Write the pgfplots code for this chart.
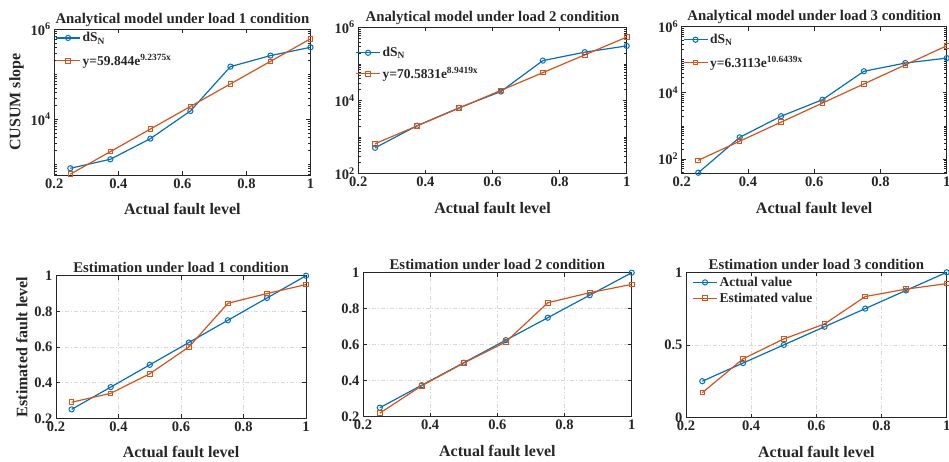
\documentclass[border=0pt]{standalone}
\usepackage{fontspec}
\setmainfont{Liberation Serif}
\usepackage{pgfplots}
\pgfplotsset{compat=1.18}

\definecolor{mblue}{rgb}{0,0.447,0.741}
\definecolor{morange}{rgb}{0.85,0.325,0.098}
\definecolor{axgray}{rgb}{0.15,0.15,0.15}

\pgfplotsset{
  panel/.style={
    scale only axis, anchor=south west,
    xmin=0.2, xmax=1, xtick={0.2,0.4,0.6,0.8,1},
    axis line style={axgray, line width=0.8pt},
    tick style={axgray, line width=0.6pt},
    major tick length=4pt, minor tick length=2.5pt,
    tick label style={font=\fontsize{14.5}{16}\selectfont\bfseries, text=axgray},
    /pgf/number format/assume math mode=true,
    label style={font=\fontsize{16}{18}\selectfont\bfseries, text=axgray},
    title style={font=\fontsize{14.8}{17}\selectfont\bfseries, text=axgray, at={(0.5,1)}, anchor=base},
    xlabel={Actual fault level},
    xlabel style={yshift=-8pt},
    legend style={draw=none, fill=none, at={(0.0,1.0)}, anchor=north west,
      font=\fontsize{13.5}{15}\selectfont\bfseries, text=axgray, row sep=1pt, inner sep=1pt},
    legend cell align=left,
    legend image code/.code={\draw[mark repeat=2,mark phase=2] plot coordinates {(0pt,0pt)(12pt,0pt)(24pt,0pt)};},
  },
  sblue/.style={color=mblue, line width=1.2pt, mark=o, mark size=2.6pt, mark options={line width=1pt}},
  sred/.style={color=morange, line width=1.2pt, mark=square, mark size=2.3pt, mark options={line width=1pt}},
  logp/.style={ymax=1e6, legend style={row sep=7pt}, title style={yshift=0pt}, minor ytick={20,30,40,50,60,70,80,90,100,200,300,400,500,600,700,800,900,1000,2000,3000,4000,5000,6000,7000,8000,9000,10000,20000,30000,40000,50000,60000,70000,80000,90000,100000,200000,300000,400000,500000,600000,700000,800000,900000}},
  linp/.style={grid=major, title style={yshift=-3pt}, major grid style={color=black!15, dash pattern=on 4pt off 2pt on 1pt off 2pt, line width=0.5pt}},
}

\begin{document}
\begin{tikzpicture}
\useasboundingbox (0,0) rectangle (949pt,461pt);

% top row: analytical model (log scale)
\begin{semilogyaxis}[panel, logp, at={(54.3pt,286pt)}, width=256.2pt, height=145.7pt,
  ymin=578, ytick={10000,1000000}, yticklabels={10\textsuperscript{4},10\textsuperscript{6}},
  title={Analytical model under load 1 condition}, ylabel={CUSUM slope}]
\addplot[sblue] coordinates {(0.25,815) (0.375,1291) (0.5,3715) (0.625,15300) (0.75,148000) (0.875,260000) (1,398000)};
\addlegendentry{dS\textsubscript{N}}
\addplot[sred] coordinates {(0.25,602.5) (0.375,1912) (0.5,6066) (0.625,19247) (0.75,61065) (0.875,193780) (1,614940)};
\addlegendentry{y=59.844e\textsuperscript{9.2375x}}
\end{semilogyaxis}

\begin{semilogyaxis}[panel, logp, at={(358.3pt,287.3pt)}, width=268.4pt, height=146.4pt,
  ymin=100, ytick={100,10000,1000000}, yticklabels={10\textsuperscript{2},10\textsuperscript{4},10\textsuperscript{6}},
  title={Analytical model under load 2 condition},
  legend style={at={(-0.015,0.885)}, row sep=5pt}]
\addplot[sblue] coordinates {(0.25,510) (0.375,2040) (0.5,6300) (0.625,17600) (0.75,123000) (0.875,209000) (1,310000)};
\addlegendentry{dS\textsubscript{N}}
\addplot[sred] coordinates {(0.25,660) (0.375,2018) (0.5,6172) (0.625,18871) (0.75,57710) (0.875,176480) (1,539700)};
\addlegendentry{y=70.5831e\textsuperscript{8.9419x}}
\end{semilogyaxis}

\begin{semilogyaxis}[panel, logp, at={(681.7pt,287.5pt)}, width=265pt, height=146.8pt,
  ymin=36, ytick={100,10000,1000000}, yticklabels={10\textsuperscript{2},10\textsuperscript{4},10\textsuperscript{6}},
  title={Analytical model under load 3 condition}, legend style={at={(0.0,0.97)}}]
\addplot[sblue] coordinates {(0.25,38) (0.375,447) (0.5,1950) (0.625,6170) (0.75,44700) (0.875,79400) (1,112000)};
\addlegendentry{dS\textsubscript{N}}
\addplot[sred] coordinates {(0.25,90.3) (0.375,341.6) (0.5,1292) (0.625,4889) (0.75,18495) (0.875,69966) (1,264650)};
\addlegendentry{y=6.3113e\textsuperscript{10.6439x}}
\end{semilogyaxis}

% bottom row: estimation
\begin{axis}[panel, linp, at={(56pt,42.7pt)}, width=250pt, height=142.6pt,
  ymin=0.2, ymax=1, ytick={0.2,0.4,0.6,0.8,1},
  title={Estimation under load 1 condition}, ylabel={Estimated fault level}]
\addplot[sblue] coordinates {(0.25,0.25) (0.375,0.375) (0.5,0.5) (0.625,0.625) (0.75,0.75) (0.875,0.875) (1,1)};
\addplot[sred] coordinates {(0.25,0.29) (0.375,0.34) (0.5,0.45) (0.625,0.60) (0.75,0.845) (0.875,0.90) (1,0.95)};
\end{axis}

\begin{axis}[panel, linp, at={(363pt,44.3pt)}, width=268.7pt, height=144pt,
  ymin=0.2, ymax=1, ytick={0.2,0.4,0.6,0.8,1},
  title={Estimation under load 2 condition}]
\addplot[sblue] coordinates {(0.25,0.25) (0.375,0.375) (0.5,0.5) (0.625,0.625) (0.75,0.75) (0.875,0.875) (1,1)};
\addplot[sred] coordinates {(0.25,0.22) (0.375,0.372) (0.5,0.498) (0.625,0.615) (0.75,0.833) (0.875,0.889) (1,0.935)};
\end{axis}

\begin{axis}[panel, linp, at={(686pt,43.5pt)}, width=260.7pt, height=145.2pt,
  ymin=0, ymax=1, ytick={0,0.5,1},
  title={Estimation under load 3 condition}, legend style={at={(0.02,0.99)}}]
\addplot[sblue] coordinates {(0.25,0.25) (0.375,0.375) (0.5,0.5) (0.625,0.625) (0.75,0.75) (0.875,0.875) (1,1)};
\addlegendentry{Actual value}
\addplot[sred] coordinates {(0.25,0.171) (0.375,0.404) (0.5,0.541) (0.625,0.644) (0.75,0.833) (0.875,0.884) (1,0.922)};
\addlegendentry{Estimated value}
\end{axis}
\end{tikzpicture}
\end{document}
